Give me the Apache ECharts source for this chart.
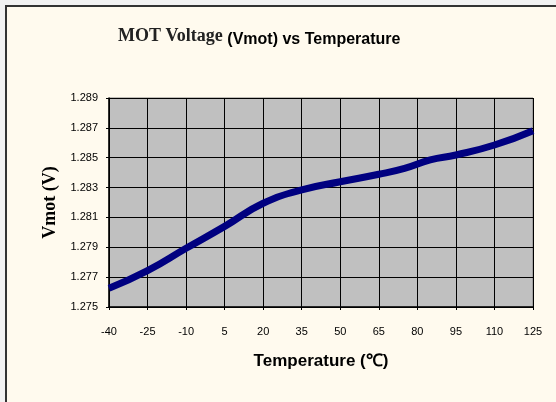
<!DOCTYPE html>
<html>
<head>
<meta charset="utf-8">
<script src="https://cdn.jsdelivr.net/npm/echarts@6/dist/echarts.min.js"></script>
<style>
  html, body { margin: 0; padding: 0; background: #f2f2f2; overflow: hidden; width: 556px; height: 402px; }
  #wrap { position: absolute; left: 5px; top: 5px; width: 600px; height: 420px;
          border-left: 2px solid #333; border-top: 2px solid #333; background: #fffaee; }
  #chart { width: 549px; height: 395px; }
</style>
</head>
<body>
<div id="wrap"><div id="chart"></div></div>
<script>
// temperatures (°C) and MOT voltage
var temps = [-40, -25, -10, 5, 20, 35, 50, 65, 75, 85, 95, 110, 125];
var vmot  = [1.27625, 1.27743, 1.27893, 1.28040, 1.28195, 1.28284, 1.28339, 1.28389, 1.28429, 1.28485, 1.28518, 1.28585, 1.28681];

var points = temps.map(function (t, i) { return [t, vmot[i]]; });

var chart = echarts.init(document.getElementById('chart'));
chart.setOption({
    backgroundColor: 'transparent',
    animation: false,
    title: {
        text: '{a|MOT Voltage }{b|(Vmot) vs Temperature}',
        left: 106,
        top: 12,
        textStyle: {
            rich: {
                a: { fontFamily: 'Liberation Serif', fontWeight: 'bold', fontSize: 18, color: '#222' },
                b: { fontFamily: 'Liberation Sans', fontWeight: 'bold', fontSize: 16, color: '#000', padding: [8, 0, 0, 0] }
            }
        }
    },
    grid: { left: 102, top: 91, right: 23, bottom: 95, containLabel: false,
            show: true, backgroundColor: '#c0c0c0', borderColor: '#808080', borderWidth: 1 },
    xAxis: {
        type: 'value',
        min: -40, max: 125, interval: 15,
        name: 'Temperature (\u2103)',
        nameLocation: 'middle',
        nameGap: 46,
        nameTextStyle: { fontFamily: 'Liberation Sans', fontWeight: 'bold', fontSize: 17, color: '#000' },
        axisLine: { show: true, onZero: false, lineStyle: { color: '#000', width: 1.5 } },
        axisTick: { show: true, length: 3, lineStyle: { color: '#000' } },
        axisLabel: { margin: 19, fontFamily: 'Liberation Sans', fontSize: 11, color: '#000' },
        splitLine: { show: true, lineStyle: { color: '#000', width: 1 } }
    },
    yAxis: {
        type: 'value',
        min: 1.275, max: 1.289, interval: 0.002,
        name: 'Vmot (V)',
        nameLocation: 'middle',
        nameGap: 45,
        nameTextStyle: { fontFamily: 'Liberation Serif', fontWeight: 'bold', fontSize: 18, color: '#000' },
        axisLine: { show: true, onZero: false, lineStyle: { color: '#000', width: 1.5 } },
        axisTick: { show: true, length: 3, lineStyle: { color: '#000' } },
        axisLabel: { margin: 11, fontFamily: 'Liberation Sans', fontSize: 11, color: '#000',
                     formatter: function (v) { return v.toFixed(3); } },
        splitLine: { show: true, lineStyle: { color: '#000', width: 1 } }
    },
    series: [{
        type: 'line',
        data: points,
        smooth: 0.5,
        showSymbol: false,
        lineStyle: { color: '#000080', width: 7 }
    }]
});
</script>
</body>
</html>
